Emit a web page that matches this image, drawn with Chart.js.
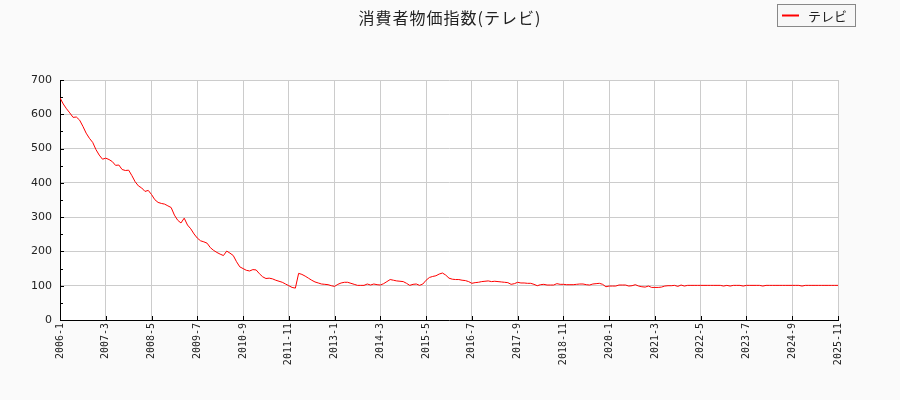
<!DOCTYPE html>
<html>
<head>
<meta charset="utf-8">
<script src="https://cdn.jsdelivr.net/npm/chart.js@4"></script>
<style>
  html, body { margin: 0; padding: 0; background: #fafafa; }
  #wrap { width: 900px; height: 400px; }
</style>
</head>
<body>
<div id="wrap"><canvas id="cpiChart" width="900" height="400"></canvas></div>
<script>
const seriesLabel = "テレビ";
const chartTitle = "消費者物価指数(テレビ)";

// one tick label every 14 months, 2006-1 .. 2025-11
const tickLabels = [
  "2006-1", "2007-3", "2008-5", "2009-7", "2010-9", "2011-11",
  "2013-1", "2014-3", "2015-5", "2016-7", "2017-9", "2018-11",
  "2020-1", "2021-3", "2022-5", "2023-7", "2024-9", "2025-11"
];
const tickStep = 14;

const yTicks = [0, 100, 200, 300, 400, 500, 600, 700];

// monthly index values, 2006-1 .. 2025-11
const values = [
  648, 630, 616, 604, 591, 592, 583, 565, 545, 530,
  518, 497, 481, 469, 472, 468, 462, 451, 452, 439,
  436, 437, 421, 403, 391, 385, 375, 378, 366, 351,
  343, 340, 338, 333, 328, 306, 291, 283, 297, 277,
  266, 251, 239, 231, 228, 224, 211, 203, 197, 192,
  188, 201, 195, 188, 170, 155, 150, 145, 143, 147,
  146, 135, 126, 121, 122, 120, 116, 113, 110, 105,
  100, 95, 93, 136, 133, 128, 122, 116, 111, 108,
  105, 104, 103, 100, 98, 104, 108, 110, 110, 107,
  104, 101, 101, 101, 105, 102, 105, 103, 102, 106,
  112, 118, 116, 114, 113, 112, 107, 101, 104, 105,
  101, 105, 116, 124, 127, 129, 134, 137, 131, 122,
  119, 118, 118, 116, 115, 112, 107, 109, 110, 112,
  113, 114, 112, 113, 112, 111, 110, 109, 104, 106,
  110, 108, 108, 107, 107, 104, 100, 103, 104, 102,
  102, 102, 106, 104, 104, 103, 103, 103, 104, 105,
  105, 103, 102, 105, 106, 107, 104, 97, 99, 99,
  99, 102, 102, 102, 99, 100, 103, 99, 97, 96,
  99, 95, 95, 95, 96, 99, 100, 100, 101, 98,
  102, 99, 101, 101, 101, 101, 101, 101, 101, 101,
  101, 101, 101, 99, 101, 99, 101, 101, 101, 99,
  101, 101, 101, 101, 101, 99, 101, 101, 101, 101,
  101, 101, 101, 101, 101, 101, 101, 99, 101, 101,
  101, 101, 101, 101, 101, 101, 101, 101, 101
];

const lastIndex = (tickLabels.length - 1) * tickStep;

// white plot area, inward tick marks, title and the boxed legend
const plotDecor = {
  id: "plotDecor",
  beforeDraw(chart) {
    const { ctx, chartArea } = chart;
    ctx.save();
    ctx.fillStyle = "#ffffff";
    ctx.fillRect(chartArea.left, chartArea.top,
      chartArea.right - chartArea.left, chartArea.bottom - chartArea.top);
    ctx.restore();
  },
  afterDraw(chart) {
    const { ctx, chartArea, scales, width } = chart;
    ctx.save();
    ctx.strokeStyle = "#000000";
    ctx.lineWidth = 1;
    ctx.beginPath();
    for (let i = 0; i < tickLabels.length; i++) {
      const x = Math.round(scales.x.getPixelForValue(i * tickStep)) + 0.5;
      ctx.moveTo(x, chartArea.bottom);
      ctx.lineTo(x, chartArea.bottom - 4);
    }
    for (let v = 0; v <= 700; v += 50) {
      const y = Math.round(scales.y.getPixelForValue(v)) + 0.5;
      const len = v % 100 === 0 ? 4 : 3;
      ctx.moveTo(chartArea.left, y);
      ctx.lineTo(chartArea.left + len, y);
    }
    ctx.stroke();

    // title, centred on the whole canvas
    ctx.fillStyle = "#222222";
    ctx.font = '16px "Noto Sans CJK JP"';
    ctx.letterSpacing = "1px";
    ctx.textAlign = "center";
    ctx.textBaseline = "middle";
    ctx.fillText(chartTitle, width / 2, 18);
    ctx.letterSpacing = "0px";

    // legend
    ctx.textAlign = "left";
    ctx.fillStyle = "#f7f7f7";
    ctx.strokeStyle = "#888888";
    ctx.fillRect(777.5, 4.5, 78, 22);
    ctx.strokeRect(777.5, 4.5, 78, 22);
    ctx.strokeStyle = "#ff0000";
    ctx.lineWidth = 2;
    ctx.beginPath();
    ctx.moveTo(782, 15.5);
    ctx.lineTo(799, 15.5);
    ctx.stroke();
    ctx.fillStyle = "#222222";
    ctx.font = '13px "Noto Sans CJK JP"';
    ctx.fillText(seriesLabel, 808, 16);
    ctx.restore();
  }
};

const ctx = document.getElementById("cpiChart").getContext("2d");
new Chart(ctx, {
  type: "line",
  data: {
    datasets: [{
      label: seriesLabel,
      data: values.map((v, i) => ({ x: i, y: v })),
      borderColor: "#ff0000",
      borderWidth: 1,
      pointRadius: 0,
      tension: 0,
      fill: false
    }]
  },
  options: {
    responsive: false,
    animation: false,
    layout: { padding: { left: 0, right: 62, top: 80, bottom: 0 } },
    plugins: {
      legend: { display: false },
      tooltip: { enabled: false },
      title: { display: false }
    },
    scales: {
      x: {
        type: "linear",
        min: 0,
        max: lastIndex,
        afterBuildTicks: (scale) => {
          scale.ticks = tickLabels.map((_, i) => ({ value: i * tickStep }));
        },
        afterFit: (scale) => { scale.height = 80; },
        grid: { color: "#cccccc", drawTicks: false },
        border: { color: "#000000" },
        ticks: {
          autoSkip: false,
          maxRotation: 90,
          minRotation: 90,
          padding: 3,
          color: "#222222",
          font: { family: '"DejaVu Sans Mono"', size: 10 },
          callback: (value) => tickLabels[Math.round(value / tickStep)]
        }
      },
      y: {
        min: 0,
        max: 700,
        afterBuildTicks: (scale) => {
          scale.ticks = yTicks.map((v) => ({ value: v }));
        },
        afterFit: (scale) => { scale.width = 60; },
        grid: { color: "#cccccc", drawTicks: false },
        border: { color: "#000000" },
        ticks: {
          padding: 8,
          color: "#222222",
          font: { family: '"DejaVu Sans"', size: 11 }
        }
      }
    }
  },
  plugins: [plotDecor]
});
</script>
</body>
</html>
